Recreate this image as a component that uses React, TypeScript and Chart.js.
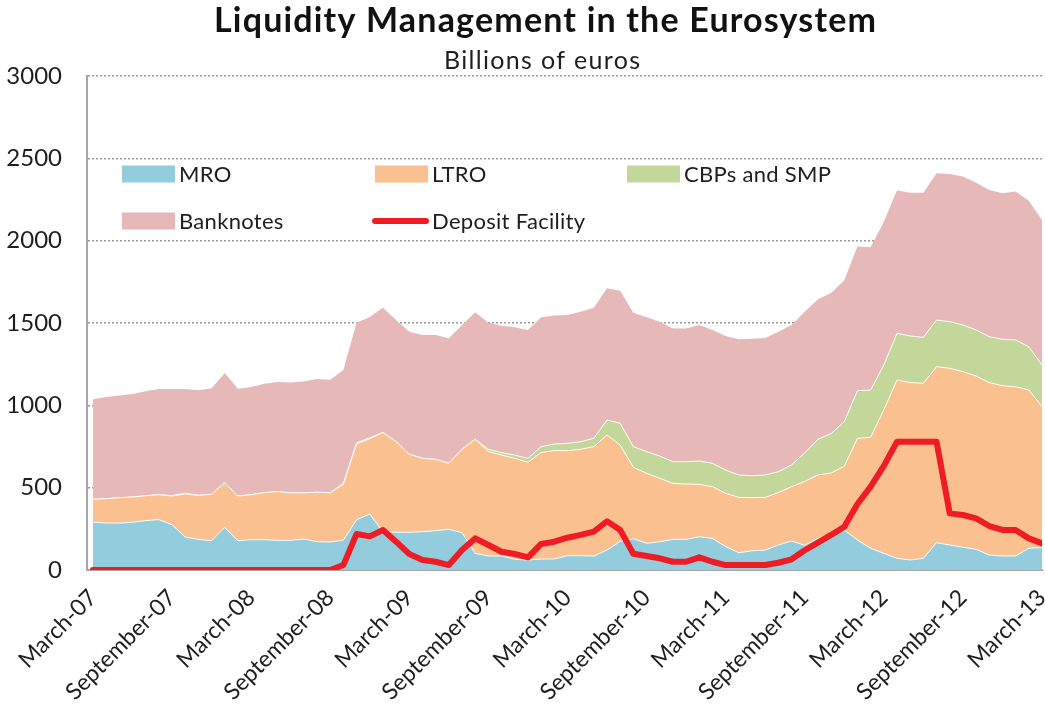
import React, { useEffect, useRef } from "react";
import { Chart, registerables } from "chart.js";

Chart.register(...registerables);

// Monthly observations, March 2007 – March 2013
const months = [
  "Mar-07", "Apr-07", "May-07", "Jun-07", "Jul-07", "Aug-07", "Sep-07", "Oct-07", "Nov-07", "Dec-07",
  "Jan-08", "Feb-08", "Mar-08", "Apr-08", "May-08", "Jun-08", "Jul-08", "Aug-08", "Sep-08", "Oct-08", "Nov-08", "Dec-08",
  "Jan-09", "Feb-09", "Mar-09", "Apr-09", "May-09", "Jun-09", "Jul-09", "Aug-09", "Sep-09", "Oct-09", "Nov-09", "Dec-09",
  "Jan-10", "Feb-10", "Mar-10", "Apr-10", "May-10", "Jun-10", "Jul-10", "Aug-10", "Sep-10", "Oct-10", "Nov-10", "Dec-10",
  "Jan-11", "Feb-11", "Mar-11", "Apr-11", "May-11", "Jun-11", "Jul-11", "Aug-11", "Sep-11", "Oct-11", "Nov-11", "Dec-11",
  "Jan-12", "Feb-12", "Mar-12", "Apr-12", "May-12", "Jun-12", "Jul-12", "Aug-12", "Sep-12", "Oct-12", "Nov-12", "Dec-12",
  "Jan-13", "Feb-13", "Mar-13",
];

const xTickLabels = [
  "March-07", "September-07", "March-08", "September-08", "March-09", "September-09", "March-10",
  "September-10", "March-11", "September-11", "March-12", "September-12", "March-13",
];

const yTicks = [0, 500, 1000, 1500, 2000, 2500, 3000];

const TITLE = "Liquidity Management in the Eurosystem";
const SUBTITLE = "Billions of euros";

const MRO = [
  291, 285, 285, 290, 300, 306, 275, 200, 186, 178,
  259, 178, 184, 184, 180, 180, 188, 172, 170, 181,
  305, 340, 233, 229, 229, 233, 239, 247, 227, 101,
  85, 85, 65, 61, 67, 67, 87, 87, 85, 121,
  174, 190, 162, 172, 186, 186, 202, 192, 142, 105,
  117, 121, 152, 176, 150, 192, 218, 243, 182, 132,
  101, 71, 61, 71, 166, 152, 138, 126, 91, 85,
  85, 132, 136,
];

const LTRO = [
  138, 148, 154, 153, 151, 151, 174, 263, 267, 282,
  271, 271, 273, 286, 296, 288, 280, 300, 299, 340,
  461, 457, 601, 550, 474, 445, 433, 401, 506, 693,
  634, 613, 613, 593, 646, 658, 638, 646, 664, 699,
  585, 434, 425, 385, 340, 336, 318, 314, 324, 336,
  322, 320, 318, 330, 388, 385, 371, 387, 618, 674,
  871, 1083, 1077, 1063, 1069, 1073, 1066, 1052, 1047, 1034,
  1028, 961, 856,
];

const CBP_SMP = [
  0, 0, 0, 0, 0, 0, 3, 3, 0, 0,
  0, 0, 0, 0, 0, 0, 0, 0, 0, 5,
  6, 6, 2, 0, 0, 0, 0, 0, 0, 0,
  14, 15, 20, 24, 36, 40, 44, 46, 51, 91,
  132, 125, 132, 135, 132, 136, 142, 142, 141, 136,
  134, 136, 127, 132, 173, 217, 239, 271, 289, 287,
  273, 283, 283, 279, 283, 283, 284, 280, 279, 282,
  284, 263, 253,
];

const BANKNOTES = [
  608, 618, 620, 626, 634, 642, 647, 633, 638, 643,
  666, 652, 654, 661, 666, 670, 676, 688, 687, 689,
  729, 733, 756, 739, 744, 749, 755, 759, 755, 771,
  769, 771, 776, 780, 786, 780, 780, 790, 793, 800,
  805, 814, 816, 816, 809, 809, 826, 810, 814, 824,
  832, 832, 850, 850, 858, 850, 854, 858, 875, 867,
  870, 867, 870, 878, 891, 897, 901, 894, 891, 887,
  901, 887, 881,
];

const DEPOSIT = [
  0, 0, 0, 0, 0, 0, 0, 0, 0, 0,
  0, 0, 0, 0, 0, 0, 0, 0, 0, 30,
  219, 204, 243, 172, 97, 61, 50, 30, 121, 192,
  152, 111, 97, 77, 158, 172, 196, 213, 233, 296,
  243, 99, 85, 71, 50, 50, 77, 50, 30, 30,
  30, 30, 44, 65, 120, 166, 213, 263, 401, 506,
  632, 779, 779, 779, 779, 344, 334, 314, 267, 243,
  243, 192, 162,
];

const FONT = "Lato, 'Open Sans', sans-serif";
const TEXT = "#1e1e1e";
const COLORS = {
  mro: "#93CDDD",
  ltro: "#FAC090",
  cbp: "#C4D79B",
  banknotes: "#E6B9B8",
  deposit: "#EE1C25",
};

const toPoints = (arr: number[]) => arr.map((y, i) => ({ x: i, y }));

function drawSpread(ctx: any, text: string, cx: number, y: number, font: string, targetW: number) {
  ctx.font = font;
  const w = ctx.measureText(text).width;
  ctx.textAlign = "left";
  if ("letterSpacing" in ctx && targetW > w) {
    const sp = (targetW - w) / (text.length - 1);
    ctx.letterSpacing = `${sp}px`;
    ctx.fillText(text, cx - targetW / 2, y);
    ctx.letterSpacing = "0px";
  } else {
    ctx.fillText(text, cx - w / 2, y);
  }
}

const headerPlugin = {
  id: "header",
  afterDraw(chart: any) {
    const ctx = chart.ctx;
    ctx.save();
    ctx.textBaseline = "alphabetic";
    ctx.fillStyle = "#111";
    drawSpread(ctx, TITLE, 545, 32, `bold 34px ${FONT}`, 662);
    ctx.fillStyle = TEXT;
    drawSpread(ctx, SUBTITLE, 542, 69, `25px ${FONT}`, 196);
    ctx.restore();
  },
};

const insideLegend = {
  id: "insideLegend",
  afterDatasetsDraw(chart: any) {
    const { ctx, chartArea: a } = chart;
    const cols = [a.left + 35, a.left + 288, a.left + 540];
    const rows = [a.top + 98, a.top + 145];
    ctx.save();
    ctx.font = `22px ${FONT}`;
    if ("letterSpacing" in ctx) ctx.letterSpacing = "0.3px";
    ctx.textBaseline = "middle";
    ctx.textAlign = "left";
    chart.data.datasets.forEach((ds: any, k: number) => {
      const x = cols[k % 3];
      const y = rows[Math.floor(k / 3)];
      if (ds.fill === false) {
        ctx.strokeStyle = ds.borderColor;
        ctx.lineWidth = 6;
        ctx.lineCap = "round";
        ctx.beginPath();
        ctx.moveTo(x, y);
        ctx.lineTo(x + 51, y);
        ctx.stroke();
      } else {
        ctx.fillStyle = ds.backgroundColor;
        ctx.fillRect(x, y - 8.5, 53, 17);
      }
      ctx.fillStyle = TEXT;
      ctx.fillText(ds.label, x + 57, y + 1);
    });
    ctx.restore();
  },
};

export default function App() {
  const canvasRef = useRef<HTMLCanvasElement | null>(null);

  useEffect(() => {
    const canvas = canvasRef.current;
    if (!canvas) return;
    const areaCommon = {
      borderColor: "rgba(255,255,255,0.9)",
      borderWidth: 1,
      pointRadius: 0,
      tension: 0,
      stack: "liquidity",
    };
    const chart = new Chart(canvas, {
      type: "line",
      data: {
        labels: months,
        datasets: [
          { ...areaCommon, label: "MRO", data: toPoints(MRO), backgroundColor: COLORS.mro, fill: "origin" },
          { ...areaCommon, label: "LTRO", data: toPoints(LTRO), backgroundColor: COLORS.ltro, fill: "-1" },
          { ...areaCommon, label: "CBPs and SMP", data: toPoints(CBP_SMP), backgroundColor: COLORS.cbp, fill: "-1" },
          { ...areaCommon, label: "Banknotes", data: toPoints(BANKNOTES), backgroundColor: COLORS.banknotes, fill: "-1", borderColor: "rgba(255,255,255,0)" },
          {
            label: "Deposit Facility",
            data: toPoints(DEPOSIT),
            borderColor: COLORS.deposit,
            backgroundColor: COLORS.deposit,
            borderWidth: 6,
            borderCapStyle: "round",
            borderJoinStyle: "round",
            pointRadius: 0,
            tension: 0,
            fill: false,
            stack: "deposit",
            order: -1,
          },
        ],
      } as any,
      options: {
        animation: false,
        responsive: false,
        events: [],
        layout: { padding: { left: 0, right: 3, top: 76, bottom: 0 } },
        plugins: {
          legend: { display: false },
          tooltip: { enabled: false },
          title: { display: false },
        },
        scales: {
          x: {
            type: "linear",
            min: -0.45,
            max: months.length - 1,
            afterBuildTicks: (scale: any) => {
              scale.ticks = xTickLabels.map((_, k) => ({ value: k * 6 }));
            },
            afterFit: (scale: any) => {
              scale.height = 140;
              scale.paddingLeft = 0;
              scale.paddingRight = 0;
            },
            grid: { display: false, drawTicks: false },
            border: { display: true, color: "#a6a6a6", width: 2 },
            ticks: {
              autoSkip: false,
              maxRotation: 45,
              minRotation: 45,
              padding: 14,
              color: TEXT,
              font: { family: FONT, size: 23 },
              callback: (value: any) => {
                const k = Number(value) / 6;
                return Number.isInteger(k) ? xTickLabels[k] : "";
              },
            },
          },
          y: {
            stacked: true,
            min: 0,
            max: 3000,
            afterBuildTicks: (scale: any) => {
              scale.ticks = yTicks.map((v) => ({ value: v }));
            },
            afterFit: (scale: any) => {
              scale.width = 87;
              scale.paddingTop = 0;
              scale.paddingBottom = 0;
            },
            grid: {
              drawTicks: false,
              lineWidth: 1.5,
              color: (c: any) => (c.tick && c.tick.value === 0 ? "rgba(0,0,0,0)" : "#9a9a9a"),
            },
            border: { display: true, color: "#a6a6a6", width: 2, dash: [2, 2] },
            ticks: {
              padding: 25,
              color: TEXT,
              font: { family: FONT, size: 24 },
              callback: (value: any) => String(value),
            },
          },
        },
      } as any,
      plugins: [insideLegend, headerPlugin],
    });
    return () => chart.destroy();
  }, []);

  return (
    <div style={{ position: "absolute", left: 0, top: 0, width: 1045, height: 710, background: "#fff" }}>
      <canvas ref={canvasRef} width={1045} height={710} style={{ display: "block" }} />
    </div>
  );
}
